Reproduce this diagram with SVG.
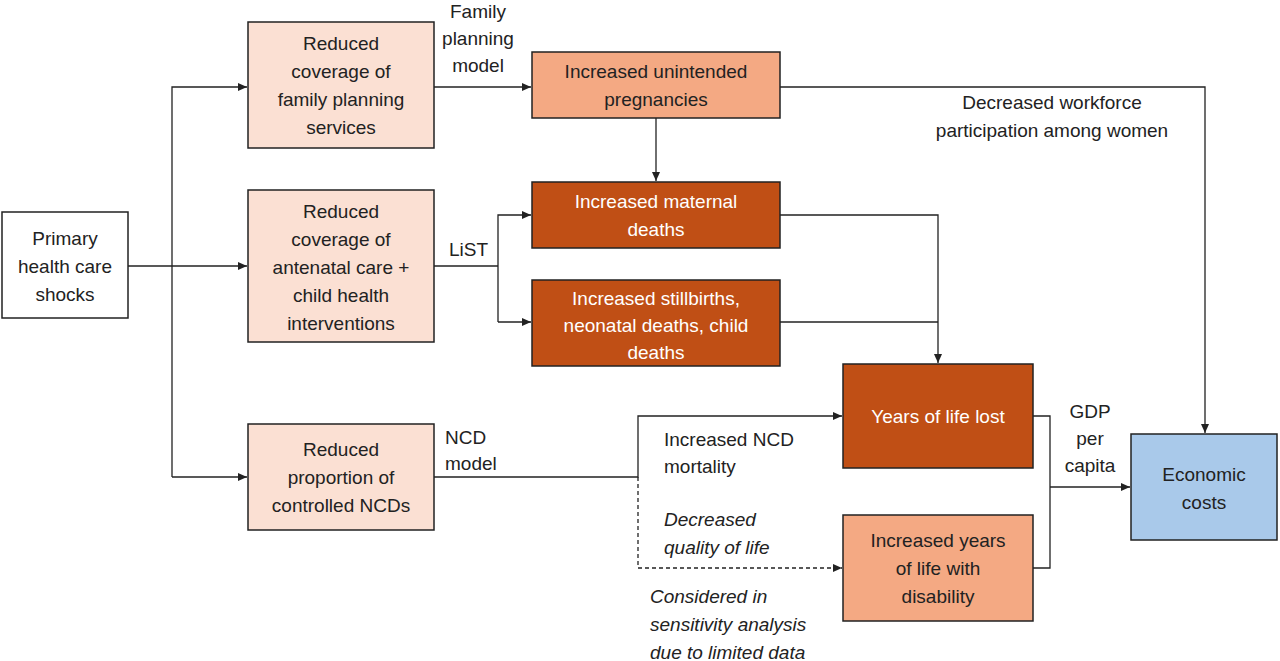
<svg xmlns="http://www.w3.org/2000/svg" width="1280" height="661" viewBox="0 0 1280 661">
<defs>
<style>
text{font-family:"Liberation Sans",Arial,sans-serif;font-size:19px;fill:#222;text-anchor:middle}
.w{fill:#fff}
.l{text-anchor:start}
.i{font-style:italic}
.box{stroke:#222;stroke-width:1.5}
.c{fill:none;stroke:#222;stroke-width:1.3}
.d{stroke-dasharray:4,3}
</style>
<marker id="a" markerWidth="10" markerHeight="10" refX="9" refY="5" orient="auto" markerUnits="userSpaceOnUse"><path d="M0,1 L9,5 L0,9z" fill="#222"/></marker>
</defs>
<rect width="1280" height="661" fill="#fff"/>
<g id="connectors">
<path class="c" d="M128,266 H247" marker-end="url(#a)"/>
<path class="c" d="M172,477 V87 H247" marker-end="url(#a)"/>
<path class="c" d="M172,477 H247" marker-end="url(#a)"/>
<path class="c" d="M434,87 H531" marker-end="url(#a)"/>
<path class="c" d="M656,118 V181" marker-end="url(#a)"/>
<path class="c" d="M780,87 H1205 V433" marker-end="url(#a)"/>
<path class="c" d="M434,266 H498"/>
<path class="c" d="M498,322 V215 H531" marker-end="url(#a)"/>
<path class="c" d="M498,322 H531" marker-end="url(#a)"/>
<path class="c" d="M780,215 H938 V363" marker-end="url(#a)"/>
<path class="c" d="M780,322 H938"/>
<path class="c" d="M434,477 H638 V416 H842" marker-end="url(#a)"/>
<path class="c d" d="M638,477 V568 H842" marker-end="url(#a)"/>
<path class="c" d="M1033,416 H1050 V568 H1033"/>
<path class="c" d="M1050,487 H1130" marker-end="url(#a)"/>
<text x="478" y="18">Family</text><text x="478" y="45">planning</text><text x="478" y="72">model</text>
<text x="1052" y="109">Decreased workforce</text><text x="1052" y="137">participation among women</text>
<text class="l" x="449" y="256">LiST</text>
<text class="l" x="445" y="444">NCD</text><text class="l" x="445" y="470">model</text>
<text class="l" x="664" y="446">Increased NCD</text><text class="l" x="664" y="473">mortality</text>
<text class="l i" x="664" y="526">Decreased</text><text class="l i" x="664" y="554">quality of life</text>
<text class="l i" x="650" y="603">Considered in</text><text class="l i" x="650" y="631">sensitivity analysis</text><text class="l i" x="650" y="659">due to limited data</text>
<text x="1090" y="418">GDP</text><text x="1090" y="445">per</text><text x="1090" y="472">capita</text>
</g>
<g id="shocks"><rect class="box" x="2" y="212" width="126" height="106" fill="#fff"/><text x="65" y="245">Primary</text><text x="65" y="273">health care</text><text x="65" y="301">shocks</text></g>
<g id="fp"><rect class="box" x="248" y="22" width="186" height="126" fill="#fbe0d3"/><text x="341" y="50">Reduced</text><text x="341" y="78">coverage of</text><text x="341" y="106">family planning</text><text x="341" y="134">services</text></g>
<g id="anc"><rect class="box" x="248" y="190" width="186" height="152" fill="#fbe0d3"/><text x="341" y="218">Reduced</text><text x="341" y="246">coverage of</text><text x="341" y="274">antenatal care +</text><text x="341" y="302">child health</text><text x="341" y="330">interventions</text></g>
<g id="ncd"><rect class="box" x="248" y="424" width="186" height="106" fill="#fbe0d3"/><text x="341" y="456">Reduced</text><text x="341" y="484">proportion of</text><text x="341" y="512">controlled NCDs</text></g>
<g id="preg"><rect class="box" x="532" y="52" width="248" height="66" fill="#f4a983"/><text x="656" y="78">Increased unintended</text><text x="656" y="106">pregnancies</text></g>
<g id="mat"><rect class="box" x="532" y="182" width="248" height="66" fill="#c04f15"/><text class="w" x="656" y="208">Increased maternal</text><text class="w" x="656" y="236">deaths</text></g>
<g id="still"><rect class="box" x="532" y="280" width="248" height="86" fill="#c04f15"/><text class="w" x="656" y="305">Increased stillbirths,</text><text class="w" x="656" y="332">neonatal deaths, child</text><text class="w" x="656" y="359">deaths</text></g>
<g id="yll"><rect class="box" x="843" y="364" width="190" height="104" fill="#c04f15"/><text class="w" x="938" y="423">Years of life lost</text></g>
<g id="yld"><rect class="box" x="843" y="515" width="190" height="106" fill="#f4a983"/><text x="938" y="547">Increased years</text><text x="938" y="575">of life with</text><text x="938" y="603">disability</text></g>
<g id="econ"><rect class="box" x="1131" y="434" width="146" height="106" fill="#a9c9ea"/><text x="1204" y="481">Economic</text><text x="1204" y="509">costs</text></g>
</svg>
